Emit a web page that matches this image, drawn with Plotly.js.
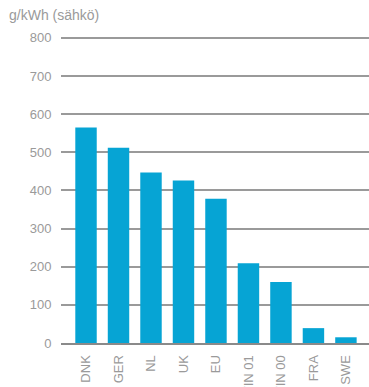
<!DOCTYPE html>
<html>
<head>
<meta charset="utf-8">
<script src="https://cdn.plot.ly/plotly-3.0.1.min.js"></script>
<style>html,body{margin:0;padding:0;background:#fff;}#chart{width:369px;height:387px;}</style>
</head>
<body>
<div id="chart"></div>
<script>
const categories = ["DNK", "GER", "NL", "UK", "EU", "FIN 01", "FIN 00", "FRA", "SWE"];
const values = [565, 512, 447, 426, 378, 209, 160, 39, 15];
const yTicks = [0, 100, 200, 300, 400, 500, 600, 700, 800];
const yTitle = "g/kWh (sähkö)";

const font = "Liberation Sans, Arial, sans-serif";
const grey = "#9a9a9a";

Plotly.newPlot("chart", [{
  type: "bar",
  x: categories,
  y: values,
  marker: {color: "#06a4d4"},
  width: 0.66,
  hoverinfo: "none"
}], {
  width: 369,
  height: 387,
  margin: {l: 61, r: 0, t: 36, b: 44, pad: 0},
  paper_bgcolor: "#fff",
  plot_bgcolor: "#fff",
  showlegend: false,
  font: {family: font, color: grey, size: 13},
  xaxis: {
    type: "category",
    range: [-0.77, 8.71],
    tickangle: -90,
    tickfont: {family: font, size: 13, color: grey},
    showgrid: false,
    zeroline: false,
    showline: true,
    linecolor: "#8a8a8a",
    linewidth: 2,
    ticks: "outside",
    ticklen: 5,
    tickcolor: "rgba(0,0,0,0)",
    automargin: false
  },
  yaxis: {
    range: [0, 805],
    tickvals: yTicks,
    ticktext: yTicks.map(String),
    tickfont: {family: font, size: 13, color: grey},
    showgrid: true,
    gridcolor: "#9a9a9a",
    gridwidth: 2,
    zeroline: false,
    showline: false,
    ticks: "outside",
    ticklen: 6,
    tickcolor: "rgba(0,0,0,0)",
    automargin: false,
    fixedrange: true
  },
  annotations: [{
    text: yTitle,
    xref: "paper", yref: "paper",
    x: -54/308, y: 1 + 21/307,
    xanchor: "left", yanchor: "middle",
    showarrow: false,
    font: {family: font, size: 14, color: grey}
  }]
}, {displayModeBar: false, staticPlot: true});
</script>
</body>
</html>
